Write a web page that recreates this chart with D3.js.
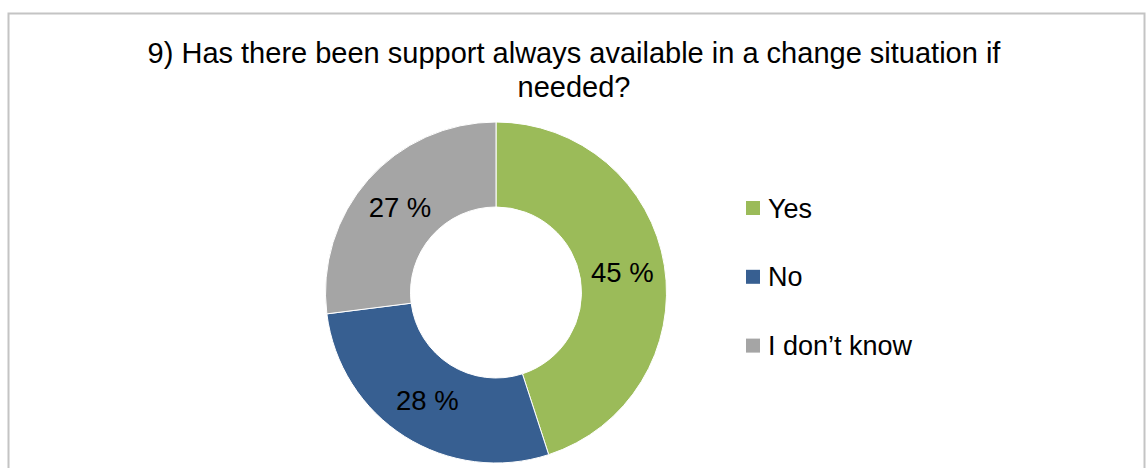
<!DOCTYPE html>
<html lang="en">

<head>
  <meta charset="utf-8">
  <title>Support in a change situation</title>
  <script src="https://d3js.org/d3.v7.min.js"></script>
  <style>
    body { margin: 0; background: #fff; }
    text { font-family: "Liberation Sans", Arial, sans-serif; fill: #000; }
  </style>
</head>

<body>
  <script>
    // data
    var categories = ['Yes', 'No', 'I don\u2019t know'];
    var values = [45, 28, 27];
    var colors = ['#9bbb59', '#375f91', '#a5a5a5'];
    var titleLines = ['9) Has there been support always available in a change situation if', 'needed?'];

    var w = 1146,
      h = 468;

    var svg = d3.select('body').append('svg')
      .attr('width', w)
      .attr('height', h);

    // chart frame (bottom edge falls outside the picture)
    svg.append('rect')
      .attr('x', 8.5)
      .attr('y', 13.5)
      .attr('width', 1136)
      .attr('height', 500)
      .attr('fill', 'none')
      .attr('stroke', '#c4c4c4')
      .attr('stroke-width', 2);

    svg.selectAll('.title')
      .data(titleLines)
      .enter().append('text')
      .attr('class', 'title')
      .attr('x', 574)
      .attr('y', function (d, i) { return 62.5 + i * 34.5; })
      .attr('text-anchor', 'middle')
      .style('font-size', '29px')
      .text(function (d) { return d; });

    var cx = 496,
      cy = 292.5,
      outerR = 170.5,
      innerR = 85.5;

    var pie = d3.pie().sort(null).value(function (d) { return d; });
    var arcs = pie(values);
    var arc = d3.arc().innerRadius(innerR).outerRadius(outerR);

    var g = svg.append('g')
      .attr('transform', 'translate(' + [cx, cy] + ')');

    g.selectAll('.slice')
      .data(arcs)
      .enter().append('path')
      .attr('class', 'slice')
      .attr('d', arc)
      .attr('fill', function (d, i) { return colors[i]; })
      .attr('stroke', '#fff')
      .attr('stroke-width', 1);

    g.selectAll('.label')
      .data(arcs)
      .enter().append('text')
      .attr('class', 'label')
      .attr('transform', function (d) { return 'translate(' + arc.centroid(d) + ')'; })
      .attr('dy', '0.35em')
      .attr('text-anchor', 'middle')
      .style('font-size', '27.5px')
      .text(function (d) { return d.value + ' %'; });

    // legend
    var legend = svg.selectAll('.legend')
      .data(categories)
      .enter().append('g')
      .attr('class', 'legend')
      .attr('transform', function (d, i) { return 'translate(' + [746, 201 + i * 68.8] + ')'; });

    legend.append('rect')
      .attr('width', 14)
      .attr('height', 14)
      .attr('fill', function (d, i) { return colors[i]; });

    legend.append('text')
      .attr('x', 22)
      .attr('y', 16.5)
      .style('font-size', '27px')
      .text(function (d) { return d; });
  </script>
</body>

</html>
